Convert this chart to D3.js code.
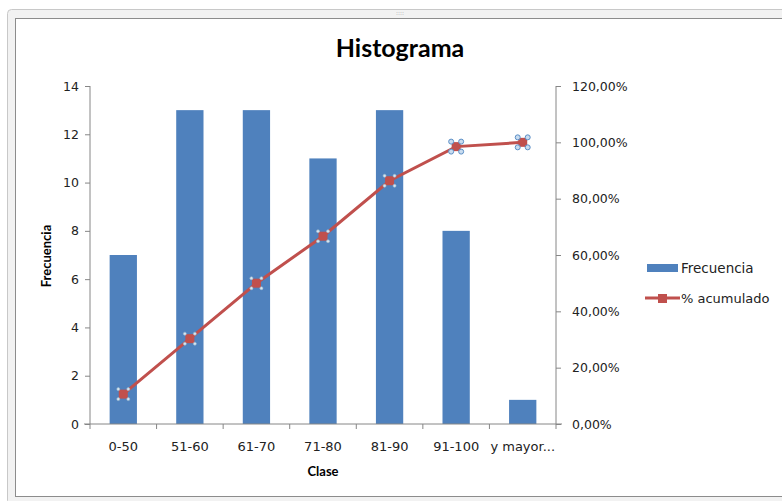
<!DOCTYPE html>
<html><head><meta charset="utf-8">
<script src="https://cdn.jsdelivr.net/npm/d3@7"></script>
<style>html,body{margin:0;padding:0;background:#fff;}svg{display:block;}</style>
</head><body>
<script>
const categories = ["0-50","51-60","61-70","71-80","81-90","91-100","y mayor..."];
const frecuencia = [7,13,13,11,13,8,1];
const acumulado = [0.1061,0.3030,0.5000,0.6667,0.8636,0.9848,1.0000];
const leftTicks = [0,2,4,6,8,10,12,14];
const rightTicks = [0,0.2,0.4,0.6,0.8,1.0,1.2];

const W=782,H=501;
const svg=d3.select("body").append("svg").attr("width",W).attr("height",H);

// frame
svg.append("rect").attr("x",7.5).attr("y",9.5).attr("width",790).attr("height",495).attr("rx",4)
  .attr("fill","#f2f2f2").attr("stroke","#c8c8c8");
svg.append("rect").attr("x",15.5).attr("y",18.5).attr("width",780).attr("height",478)
  .attr("fill","#fff").attr("stroke","#8c8c8c");
svg.append("text").attr("x",400).attr("y",15).attr("text-anchor","middle")
  .attr("font-family","DejaVu Sans").attr("font-size",6).attr("fill","#aaa").text("::::");

const x0=90,x1=556,yTop=86,yBot=424;
const x=d3.scaleBand().domain(categories).range([x0,x1]).paddingInner(0.59).paddingOuter(0.295);
const xb=d3.scaleBand().domain(categories).range([x0,x1]);
const yL=d3.scaleLinear().domain([0,14]).range([yBot,yTop]);
const yR=d3.scaleLinear().domain([0,1.2]).range([yBot,yTop]);

const axisColor="#868686";
const tickFont="DejaVu Sans";

// bars
svg.append("g").selectAll("rect").data(frecuencia).join("rect")
  .attr("x",(d,i)=>x(categories[i])).attr("width",x.bandwidth())
  .attr("y",d=>yL(d)).attr("height",d=>yBot-yL(d)).attr("fill","#4F81BD");

// left axis
const gL=svg.append("g").attr("transform",`translate(${x0},0)`)
  .call(d3.axisLeft(yL).tickValues(leftTicks).tickSize(5).tickPadding(6).tickFormat(d3.format("d")));
// right axis
const gR=svg.append("g").attr("transform",`translate(${x1},0)`)
  .call(d3.axisRight(yR).tickValues(rightTicks).tickSize(5).tickPadding(11)
    .tickFormat(d=>d3.format(".2f")(d*100).replace(".",",")+"%"));
// bottom axis
const gB=svg.append("g").attr("transform",`translate(0,${yBot})`)
  .call(d3.axisBottom(xb).tickSize(0).tickPadding(18));
gB.selectAll(".tick line").remove();
gB.append("g").selectAll("line").data(d3.range(categories.length+1)).join("line")
  .attr("x1",i=>x0+i*xb.step()).attr("x2",i=>x0+i*xb.step()).attr("y1",0).attr("y2",5)
  .attr("stroke",axisColor);

[gL,gR,gB].forEach(g=>{
  g.selectAll(".domain").attr("stroke",axisColor);
  g.selectAll(".tick line").attr("stroke",axisColor);
  g.selectAll("text").attr("font-family",tickFont).attr("font-size",12.5).attr("fill","#222");
});
gL.select(".domain").attr("d",`M0,${yTop}V${yBot}`);
gR.select(".domain").attr("d",`M0,${yTop}V${yBot}`);
gB.select(".domain").attr("d",`M${x0-6},0H${x1+6}`);
gB.selectAll("text").attr("font-size",13);

// line
const cx=(d,i)=>xb(categories[i])+xb.bandwidth()/2;
svg.append("path").datum(acumulado)
  .attr("d",d3.line().x(cx).y(d=>yR(d)))
  .attr("fill","none").attr("stroke","#C0504D").attr("stroke-width",3);
const mk=svg.append("g").selectAll("g").data(acumulado).join("g")
  .attr("transform",(d,i)=>`translate(${cx(d,i)},${yR(d)})`);
mk.append("rect").attr("x",-4.5).attr("y",-4.5).attr("width",9).attr("height",9).attr("fill","#C0504D");
// selection handles
mk.each(function(d,i){
  const big=i>=5;
  const g=d3.select(this);
  [[-5,-5],[5,-5],[-5,5],[5,5]].forEach(p=>{
    g.append("circle").attr("cx",p[0]).attr("cy",p[1]).attr("r",big?2.5:1.5)
      .attr("fill",big?"#c9dcef":"#d8e6f0").attr("stroke",big?"#5b8fc7":"#9bb8cf").attr("stroke-width",big?1:0.6);
  });
});

// title
svg.append("text").attr("x",400).attr("y",57).attr("text-anchor","middle")
  .attr("font-family","Lato").attr("font-weight","bold").attr("font-size",25).attr("fill","#000").text("Histograma");
// axis titles
svg.append("text").attr("x",323).attr("y",476).attr("text-anchor","middle")
  .attr("font-family","Lato").attr("font-weight","bold").attr("font-size",13).text("Clase");
svg.append("text").attr("transform","translate(51,256) rotate(-90)").attr("text-anchor","middle")
  .attr("font-family","Lato").attr("font-weight","bold").attr("font-size",13).text("Frecuencia");

// legend
const lg=svg.append("g");
lg.append("rect").attr("x",647).attr("y",264).attr("width",31).attr("height",8).attr("fill","#4F81BD");
lg.append("text").attr("x",681).attr("y",273).attr("font-family",tickFont).attr("font-size",13.5).attr("fill","#222").text("Frecuencia");
lg.append("line").attr("x1",645).attr("x2",680).attr("y1",298).attr("y2",298).attr("stroke","#C0504D").attr("stroke-width",3);
lg.append("rect").attr("x",658).attr("y",294).attr("width",9).attr("height",9).attr("fill","#C0504D");
lg.append("text").attr("x",681).attr("y",303).attr("font-family",tickFont).attr("font-size",13).attr("fill","#222").text("% acumulado");
</script>
</body></html>
